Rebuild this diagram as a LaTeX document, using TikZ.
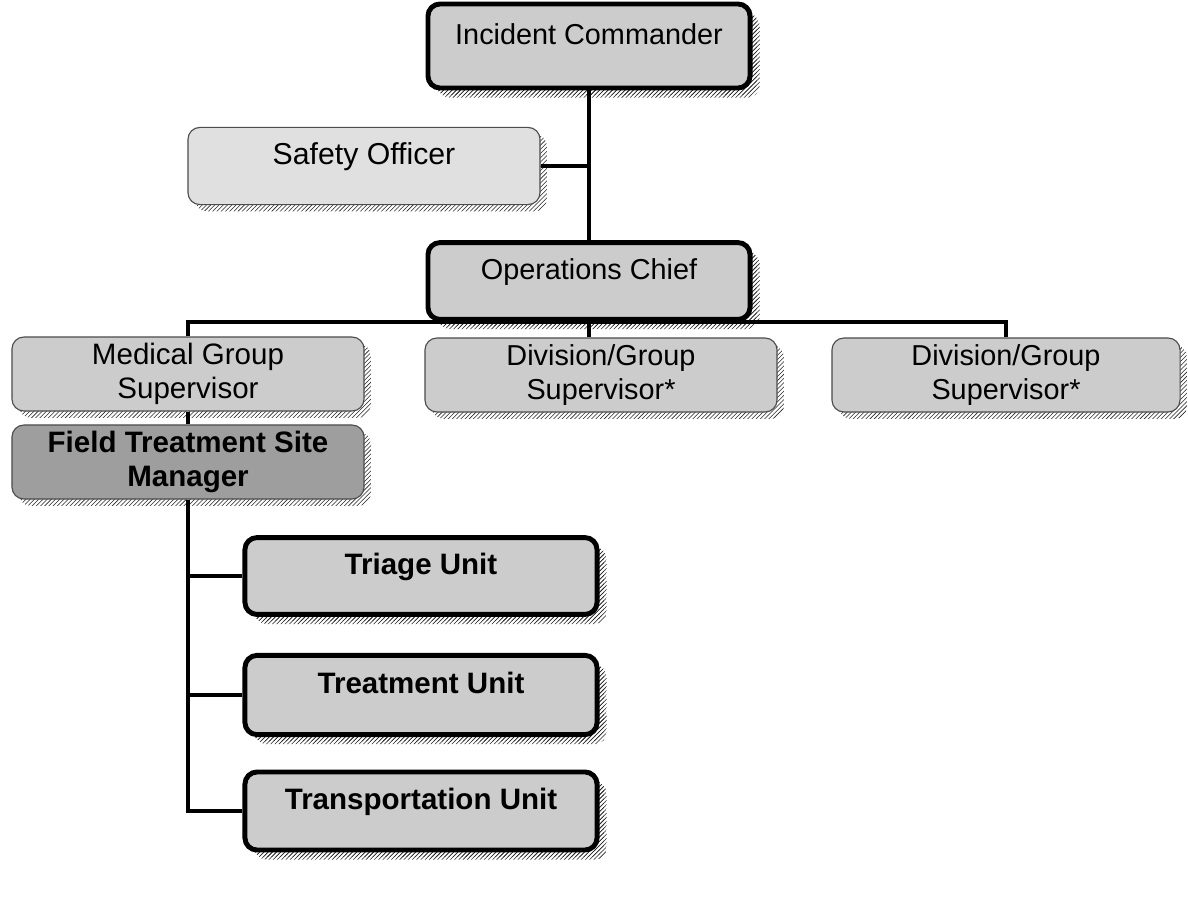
\documentclass[tikz,border=0pt]{standalone}
\usepackage{fontspec}
\setmainfont{Liberation Sans}
\usetikzlibrary{shapes,patterns,shadows,positioning}

\begin{document}
\begin{tikzpicture}[x=0.025cm, y=-0.025cm,
            hatch/.style = {general shadow={shadow xshift=#1, shadow yshift=-#1,
                pattern=north east lines, pattern color=black!85}},
            box/.style = {rectangle, rounded corners=0.3cm, align=center,
                font=\fontsize{20.5}{24}\selectfont,
                fill=black!20, draw=black!70, line width=0.8pt,
                minimum width=8.8cm, minimum height=1.85cm, hatch=0.17cm},
            heavy/.style = {box, draw=black, line width=3.5pt, hatch=0.24cm},
            unit/.style = {heavy, oneline, font=\fontsize{21}{24}\selectfont\bfseries},
            oneline/.style = {text height=0.5cm, text depth=0.57cm},
            link/.style = {line width=2.6pt}]

        \useasboundingbox (0,0) rectangle (1188,905);

        % Top of the chart
        \node[heavy, oneline, minimum width=8.05cm, minimum height=2.1cm] (ic) at (589,46) {Incident Commander};
        \node[box, oneline, fill=black!12, minimum height=1.93cm, font=\fontsize{21.5}{24}\selectfont] (safety) at (364,166) {Safety Officer};
        \node[heavy, oneline, minimum width=8.05cm, minimum height=1.92cm] (ops) at (589,281) {Operations Chief};

        % Groups and divisions
        \node[box, font=\fontsize{21}{24}\selectfont] (medical) at (188,374) {Medical Group\\Supervisor};
        \node[box] (divmid) at (601,375) {Division/Group\\Supervisor*};
        \node[box, minimum width=8.7cm] (divright) at (1006,375) {Division/Group\\Supervisor*};

        % Field treatment site
        \node[box, fill=black!38, font=\fontsize{21}{24}\selectfont\bfseries] (site) at (188,462) {Field Treatment Site\\Manager};

        % Units
        \node[unit, minimum height=1.92cm] (triage) at (421,576) {Triage Unit};
        \node[unit, minimum height=1.98cm] (treat) at (421,695) {Treatment Unit};
        \node[unit, minimum height=1.95cm] (transport) at (421,811) {Transportation Unit};

        % Connectors
        \coordinate (bus) at (589,322);
        \draw[link] (ic.south) -- (ops.north);
        \draw[link] (safety.east) -- (safety.east -| ic.south);
        \draw[link] (medical.north) |- (bus) -| (divright.north);
        \draw[link] (ops.south) -- (ops.south |- divmid.north);
        \draw[link] (medical.south) -- (site.north);
        \draw[link] (site.south) |- (transport.west);
        \draw[link] (site.south |- triage.west) -- (triage.west);
        \draw[link] (site.south |- treat.west) -- (treat.west);

\end{tikzpicture}
\end{document}
